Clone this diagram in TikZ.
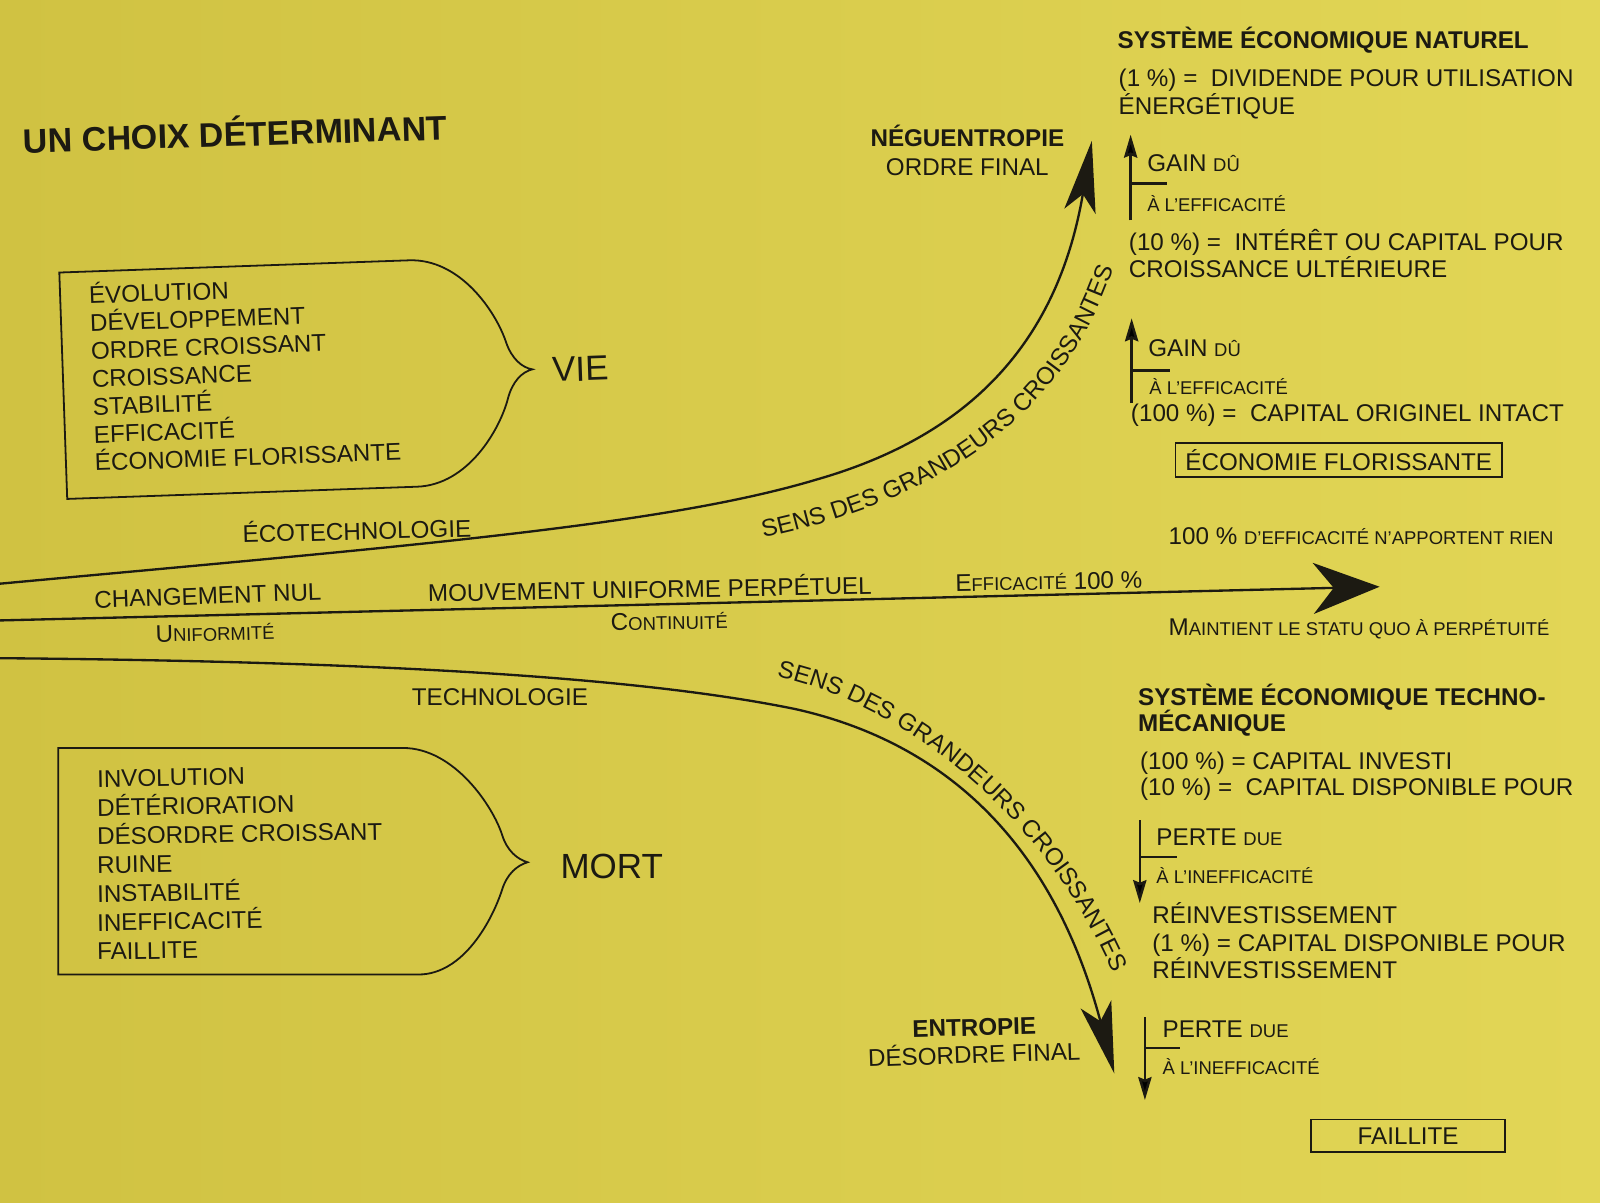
\documentclass[tikz,border=0pt]{standalone}
\usepackage{fontspec}
\setmainfont{Liberation Sans}
\usetikzlibrary{arrows.meta,decorations.text}
\definecolor{paperA}{RGB}{208,194,66}
\definecolor{paperB}{RGB}{226,214,86}
\definecolor{ink}{RGB}{28,26,18}
\newcommand\smc[1]{{\fontsize{10.3}{12}\selectfont #1}}
\newcommand\mainsz{\fontsize{13.5}{16}\selectfont}
\newcommand\bigsz{\fontsize{19.5}{23}\selectfont}
\begin{document}
\begin{tikzpicture}[x=0.02cm,y=-0.02cm,
  txt/.style={font=\mainsz,text=ink,inner sep=0pt,anchor=base west},
  hd/.style={txt,font=\mainsz\bfseries},
  ctr/.style={font=\mainsz,text=ink,inner sep=0pt,anchor=base},
  curve/.style={draw=ink,line width=1.3pt},
  outline/.style={draw=ink,line width=1pt},
  bigtip/.style={-{Stealth[length=1.4cm,width=0.62cm,inset=0.34cm]}},
  widetip/.style={-{Stealth[length=1.3cm,width=1.0cm,inset=0.4cm]}},
  thinarrow/.style={draw=ink,line width=1.4pt,-{Stealth[length=0.45cm,width=0.26cm,inset=0.05cm]}},
  tickline/.style={draw=ink,line width=1.4pt},
  framebox/.style={draw=ink,line width=1pt,font=\mainsz,text=ink,inner sep=0pt},
  curvetext/.style={decorate,decoration={text along path,text color=ink,text={|\mainsz|SENS DES GRANDEURS CROISSANTES}}}]
\useasboundingbox (0,0) rectangle (1568,1178);
\shade[left color=paperA,right color=paperB] (0,0) rectangle (1568,1178);

% title
\node[txt,font=\fontsize{19}{22}\selectfont\bfseries,rotate=1.8] (title) at (23,150) {UN CHOIX DÉTERMINANT};

% VIE group
\begin{scope}[rotate around={2:(62,378)},transform shape]
\draw[outline] (62,267) -- (405,267) .. controls (455,267) and (488,320) .. (497,350)
  .. controls (502,367) and (512,376) .. (522,378)
  .. controls (512,380) and (502,389) .. (497,406)
  .. controls (488,436) and (455,489) .. (405,489) -- (62,489) -- cycle;
\node[txt] (v1) at (90,298.5) {ÉVOLUTION};
\node[txt] (v2) at (90,325.8) {DÉVELOPPEMENT};
\node[txt] (v3) at (90,353.2) {ORDRE CROISSANT};
\node[txt] (v4) at (90,380.5) {CROISSANCE};
\node[txt] (v5) at (90,407.8) {STABILITÉ};
\node[txt] (v6) at (90,435.2) {EFFICACITÉ};
\node[txt] (v7) at (90,462.5) {ÉCONOMIE FLORISSANTE};
\node[txt,font=\bigsz] (vie) at (541,391) {VIE};
\end{scope}

% MORT group
\draw[outline] (57,733) -- (395,733) .. controls (445,733) and (483,790) .. (492,818)
  .. controls (497,834) and (507,842) .. (517,845)
  .. controls (507,848) and (497,856) .. (492,872)
  .. controls (483,900) and (455,955) .. (410,955) -- (57,955) -- cycle;
\node[txt,rotate=1] (m1) at (95,771.5) {INVOLUTION};
\node[txt,rotate=1] (m2) at (95,799.7) {DÉTÉRIORATION};
\node[txt,rotate=1] (m3) at (95,827.9) {DÉSORDRE CROISSANT};
\node[txt,rotate=1] (m4) at (95,856.1) {RUINE};
\node[txt,rotate=1] (m5) at (95,884.3) {INSTABILITÉ};
\node[txt,rotate=1] (m6) at (95,912.5) {INEFFICACITÉ};
\node[txt,rotate=1] (m7) at (95,940.7) {FAILLITE};
\node[txt,font=\bigsz] (mort) at (549,861) {MORT};

% main connectors
\coordinate (uL) at (0,572);
\coordinate (uM) at (800,470);
\coordinate (uT) at (1070,138);
\draw[curve,bigtip] (uL) .. controls (400,535) and (650,515) .. (uM)
  .. controls (940,430) and (1035,345) .. (uT);
\coordinate (mL) at (0,608);
\coordinate (mT) at (1352,575);
\draw[curve,widetip] (mL) -- (mT);
\coordinate (lL) at (0,645);
\coordinate (lM) at (780,695);
\coordinate (lT) at (1092,1052);
\draw[curve,bigtip] (lL) .. controls (350,648) and (620,662) .. (lM)
  .. controls (900,722) and (1025,800) .. (lT);

% curved labels
\coordinate (su0) at (748,527);
\coordinate (su1) at (1098,240);
\path[curvetext] (su0) .. controls (900,495) and (1050,420) .. (su1);
\coordinate (sl0) at (761,663);
\coordinate (sl1) at (1105,990);
\path[curvetext] (sl0) .. controls (895,692) and (1045,815) .. (sl1);

% line labels
\node[ctr,rotate=1.5] (eco) at (350,529) {ÉCOTECHNOLOGIE};
\node[ctr,rotate=2] (chg) at (204,592) {CHANGEMENT NUL};
\node[ctr,rotate=1.5] (unif) at (211,628) {U\smc{NIFORMITÉ}};
\node[ctr,rotate=1] (mouv) at (637,586) {MOUVEMENT UNIFORME PERPÉTUEL};
\node[ctr,rotate=1] (cont) at (656,617) {C\smc{ONTINUITÉ}};
\node[ctr,rotate=1] (eff) at (1028,578) {E\smc{FFICACITÉ} 100 \%};
\node[ctr] (techno) at (490,691) {TECHNOLOGIE};
\node[ctr,font=\mainsz\bfseries] (neg) at (948,144) {NÉGUENTROPIE};
\node[ctr] (ordre) at (948,172) {ORDRE FINAL};
\node[ctr,font=\mainsz\bfseries,rotate=1.5] (entr) at (955,1015) {ENTROPIE};
\node[ctr,rotate=2] (desord) at (955,1042) {DÉSORDRE FINAL};

% natural economic system
\node[hd] (n1) at (1095,48) {SYSTÈME ÉCONOMIQUE NATUREL};
\node[txt] (n2) at (1096,85) {(1 \%) = \ DIVIDENDE POUR UTILISATION};
\node[txt] (n3) at (1096,112) {ÉNERGÉTIQUE};
\coordinate (a1s) at (1108,216);
\coordinate (a1e) at (1108,132);
\draw[thinarrow] (a1s) -- (a1e);
\coordinate (t1a) at (1108,180);
\coordinate (t1b) at (1144,180);
\draw[tickline] (t1a) -- (t1b);
\node[txt] (n4) at (1124,168) {GAIN \smc{DÛ}};
\node[txt] (n5) at (1124,207) {\smc{À L’EFFICACITÉ}};
\node[txt] (n6) at (1106,245) {(10 \%) = \ INTÉRÊT OU CAPITAL POUR};
\node[txt] (n7) at (1106,272) {CROISSANCE ULTÉRIEURE};
\coordinate (a2s) at (1109,395);
\coordinate (a2e) at (1109,312);
\draw[thinarrow] (a2s) -- (a2e);
\coordinate (t2a) at (1109,363);
\coordinate (t2b) at (1147,363);
\draw[tickline] (t2a) -- (t2b);
\node[txt] (n8) at (1125,349) {GAIN \smc{DÛ}};
\node[txt] (n9) at (1126,387) {\smc{À L’EFFICACITÉ}};
\node[txt] (n10) at (1108,413) {(100 \%) = \ CAPITAL ORIGINEL INTACT};
\node[framebox,minimum width=6.4cm,minimum height=0.66cm] (eflo) at (1312,451) {ÉCONOMIE FLORISSANTE};

% perpetual motion
\node[txt] (n11) at (1145,534) {100 \% \smc{D’EFFICACITÉ N’APPORTENT RIEN}};
\node[txt] (n12) at (1145,623) {M\smc{AINTIENT LE STATU QUO À PERPÉTUITÉ}};

% techno-mechanical system
\node[hd] (n13) at (1115,691) {SYSTÈME ÉCONOMIQUE TECHNO-};
\node[hd] (n14) at (1115,717) {MÉCANIQUE};
\node[txt] (n15) at (1117,754) {(100 \%) = CAPITAL INVESTI};
\node[txt] (n16) at (1117,780) {(10 \%) = \ CAPITAL DISPONIBLE POUR};
\coordinate (a3s) at (1117,804);
\coordinate (a3e) at (1117,885);
\draw[thinarrow] (a3s) -- (a3e);
\coordinate (t3a) at (1117,840);
\coordinate (t3b) at (1153,840);
\draw[tickline] (t3a) -- (t3b);
\node[txt] (n17) at (1133,829) {PERTE \smc{DUE}};
\node[txt] (n18) at (1133,866) {\smc{À L’INEFFICACITÉ}};
\node[txt] (n19) at (1129,905) {RÉINVESTISSEMENT};
\node[txt] (n20) at (1129,932) {(1 \%) = CAPITAL DISPONIBLE POUR};
\node[txt] (n21) at (1129,959) {RÉINVESTISSEMENT};
\coordinate (a4s) at (1122,997);
\coordinate (a4e) at (1122,1078);
\draw[thinarrow] (a4s) -- (a4e);
\coordinate (t4a) at (1122,1027);
\coordinate (t4b) at (1156,1027);
\draw[tickline] (t4a) -- (t4b);
\node[txt] (n22) at (1139,1017) {PERTE \smc{DUE}};
\node[txt] (n23) at (1139,1053) {\smc{À L’INEFFICACITÉ}};
\node[framebox,minimum width=3.8cm,minimum height=0.64cm] (fail) at (1380,1113) {FAILLITE};
\end{tikzpicture}
\end{document}
